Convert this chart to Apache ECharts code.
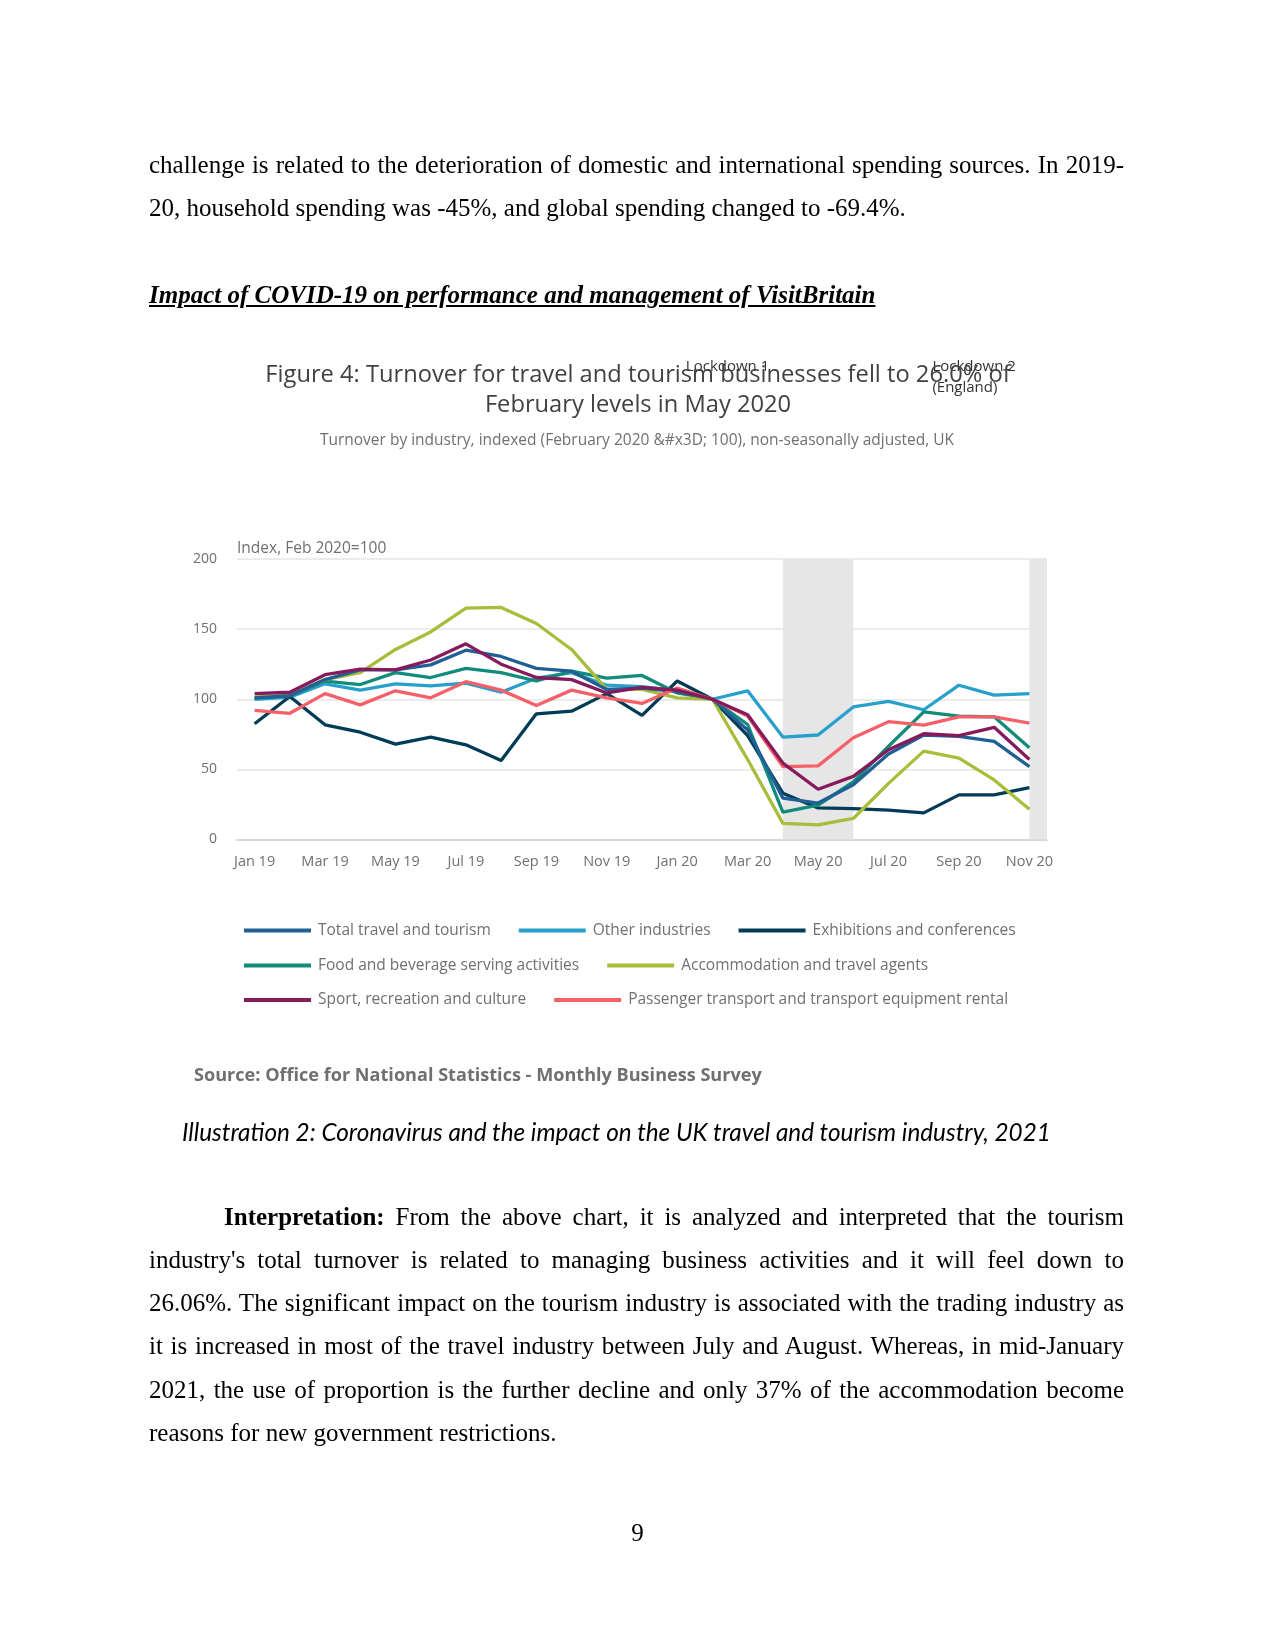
<!DOCTYPE html>
<html><head><meta charset="utf-8">
<script src="https://cdn.jsdelivr.net/npm/echarts@6/dist/echarts.min.js"></script>
<style>
html,body{margin:0;padding:0;background:#fff;}
#page{position:relative;width:1275px;height:1650px;overflow:hidden;background:#fff;}
#chart{position:absolute;left:0;top:0;width:1275px;height:1650px;}
.t{position:absolute;font-family:"Liberation Serif","Times New Roman",serif;font-size:25px;line-height:28px;color:#000;white-space:nowrap;}
.j{left:149px;width:975px;text-align:justify;text-align-last:justify;}
.l{left:149px;}
.cap{position:absolute;left:182px;top:1118px;font-family:Lato,sans-serif;font-style:italic;font-size:24.3px;line-height:28px;color:#000;white-space:nowrap;}
</style></head>
<body><div id="page">
<div id="chart"></div>
<div class="t j" style="top:151px">challenge is related to the deterioration of domestic and international spending sources. In 2019-</div>
<div class="t l" style="top:194px">20, household spending was -45%, and global spending changed to -69.4%.</div>
<div class="t l" style="top:281px;font-weight:bold;font-style:italic;text-decoration:underline;">Impact of COVID-19 on performance and management of VisitBritain</div>
<div class="cap">Illustration 2: Coronavirus and the impact on the UK travel and tourism industry, 2021</div>
<div class="t" style="top:1203px;left:224px;width:900px;text-align:justify;text-align-last:justify;"><b>Interpretation:</b> From the above chart, it is analyzed and interpreted that the tourism</div>
<div class="t j" style="top:1246px">industry's total turnover is related to managing business activities and it will feel down to</div>
<div class="t j" style="top:1289px">26.06%. The significant impact on the tourism industry is associated with the trading industry as</div>
<div class="t j" style="top:1332px">it is increased in most of the travel industry between July and August. Whereas, in mid-January</div>
<div class="t j" style="top:1376px">2021, the use of proportion is the further decline and only 37% of the accommodation become</div>
<div class="t l" style="top:1419px">reasons for new government restrictions.</div>
<div class="t" style="top:1519px;left:0;width:1275px;text-align:center;">9</div>
</div>
<script>
const months = ['Jan 19','Feb 19','Mar 19','Apr 19','May 19','Jun 19','Jul 19','Aug 19','Sep 19','Oct 19','Nov 19','Dec 19',
  'Jan 20','Feb 20','Mar 20','Apr 20','May 20','Jun 20','Jul 20','Aug 20','Sep 20','Oct 20','Nov 20'];
const yTicks = [0, 50, 100, 150, 200];

const totalTravel = [101, 102.5, 114, 121, 121, 124.5, 135, 130.5, 122, 120, 107, 108, 105.5, 100, 78, 29.5, 26, 39, 61, 74.5, 73.5, 70, 52];
const otherInd    = [100, 101.5, 111, 106.5, 111, 109.5, 111.5, 105, 115, 119, 110, 109, 106, 100, 106, 73, 74.5, 94.5, 98.5, 92.5, 110, 103, 104];
const exhibitions = [82.5, 102, 81.8, 76.5, 68, 73, 67.5, 56.3, 89.6, 91.5, 104, 88.5, 113, 100, 74, 33, 22.5, 22, 21, 19, 31.8, 31.8, 37];
const foodBev     = [101, 102.5, 113, 110.5, 119, 115.5, 122, 119, 113, 120, 115, 117, 104.5, 100, 82, 19.5, 24.5, 41, 66.5, 91, 88, 87.5, 65.5];
const accomm      = [101.5, 103, 114, 119, 135.5, 148, 165, 165.5, 154, 135.5, 107, 107, 101, 100, 57, 11.5, 10.4, 15, 40, 63, 58, 42.5, 21.5];
const sportRec    = [104, 105, 117.5, 121.5, 121, 128, 139.5, 125, 115.5, 114, 104.5, 108.5, 106.5, 100, 89, 54.5, 35.8, 45, 64, 75.4, 74, 80, 57];
const passenger   = [92, 90, 104, 96, 106, 101, 112.5, 106.5, 95.5, 106.5, 101, 97, 108, 100, 88, 52, 52.5, 72.5, 84, 81.5, 87.5, 87.5, 83];

const seriesNames = ['Total travel and tourism','Other industries','Exhibitions and conferences',
  'Food and beverage serving activities','Accommodation and travel agents',
  'Sport, recreation and culture','Passenger transport and transport equipment rental'];
const seriesColors = ['#206095','#27a0cc','#003c57','#118c7b','#a8bd3a','#871a5b','#f66068'];
const seriesData = [totalTravel, otherInd, exhibitions, foodBev, accomm, sportRec, passenger];
const drawOrder = [1, 2, 3, 4, 0, 6, 5];

const lockdowns = [
  {label: 'Lockdown 1', from: 'Apr 20', to: 'Jun 20'},
  {label: 'Lockdown 2\n(England)', from: 'Nov 20', to: null}
];

const titleText = 'Figure 4: Turnover for travel and tourism businesses fell to 26.0% of\nFebruary levels in May 2020';
const subtitleText = 'Turnover by industry, indexed (February 2020 &#x3D; 100), non-seasonally adjusted, UK';
const sourceText = 'Source: Office for National Statistics - Monthly Business Survey';
const yAxisName = 'Index, Feb 2020=100';

const chart = echarts.init(document.getElementById('chart'), null, {renderer: 'canvas'});
const FF = '"Open Sans", sans-serif';
const legendCommon = {
  orient: 'horizontal', left: 244, padding: 0, itemWidth: 67, itemHeight: 4, itemGap: 28, icon: 'rect',
  textStyle: {fontFamily: FF, fontSize: 15.5, color: '#707070', padding: [0, 0, 0, 2]}
};
const series = drawOrder.map(i => ({
  name: seriesNames[i], type: 'line', data: seriesData[i], symbol: 'none', showSymbol: false,
  lineStyle: {width: 3.3, color: seriesColors[i]}, itemStyle: {color: seriesColors[i]}, z: 3
}));
series.unshift({
  name: '_bands', type: 'line', data: [], z: 1, silent: true,
  markArea: {
    silent: true,
    itemStyle: {color: '#e6e6e6'},
    label: {show: true, position: [-97, -203], align: 'left', verticalAlign: 'top',
      fontFamily: FF, fontSize: 15, lineHeight: 21, color: '#333'},
    data: lockdowns.map(b => [
      {name: b.label, xAxis: b.from, yAxis: yTicks[yTicks.length - 1]},
      b.to ? {xAxis: b.to, yAxis: yTicks[0]} : {yAxis: yTicks[0]}
    ])
  }
});

chart.setOption({
  animation: false,
  backgroundColor: 'transparent',
  textStyle: {fontFamily: FF},
  title: [
    {text: titleText, left: 638, top: 360, textAlign: 'center', padding: 0,
      textStyle: {fontFamily: FF, fontSize: 23.7, fontWeight: 'normal', color: '#414042', lineHeight: 30}},
    {text: subtitleText, left: 637, top: 433, textAlign: 'center', padding: 0,
      textStyle: {fontFamily: FF, fontSize: 15.5, fontWeight: 'normal', color: '#707070'}},
    {text: sourceText, left: 194, top: 1067, padding: 0,
      textStyle: {fontFamily: FF, fontSize: 18.1, fontWeight: 'bold', color: '#707070'}}
  ],
  legend: [
    Object.assign({}, legendCommon, {top: 922.5, data: seriesNames.slice(0, 3)}),
    Object.assign({}, legendCommon, {top: 957.5, data: seriesNames.slice(3, 5)}),
    Object.assign({}, legendCommon, {top: 992, data: seriesNames.slice(5, 7)})
  ],
  grid: {left: 237, top: 559, width: 810, height: 280.5},
  xAxis: {
    type: 'category', data: months, boundaryGap: true,
    axisLine: {lineStyle: {color: '#d0d0d0', width: 1.5}},
    axisTick: {alignWithLabel: true, interval: 1, length: 10, lineStyle: {color: '#d0d0d0', width: 1.5}},
    axisLabel: {interval: 1, color: '#707070', fontSize: 14.5, fontFamily: FF, margin: 15},
    splitLine: {show: false}
  },
  yAxis: {
    type: 'value', min: yTicks[0], max: yTicks[yTicks.length - 1], interval: 50,
    name: yAxisName, nameLocation: 'end', nameGap: 10,
    nameTextStyle: {align: 'left', verticalAlign: 'middle', color: '#707070', fontSize: 15.5, fontFamily: FF},
    axisLine: {show: false}, axisTick: {show: false},
    axisLabel: {color: '#707070', fontSize: 14, fontFamily: FF, margin: 20},
    splitLine: {lineStyle: {color: '#e6e6e6', width: 1.5}}
  },
  series: series
});
</script>
</body></html>
